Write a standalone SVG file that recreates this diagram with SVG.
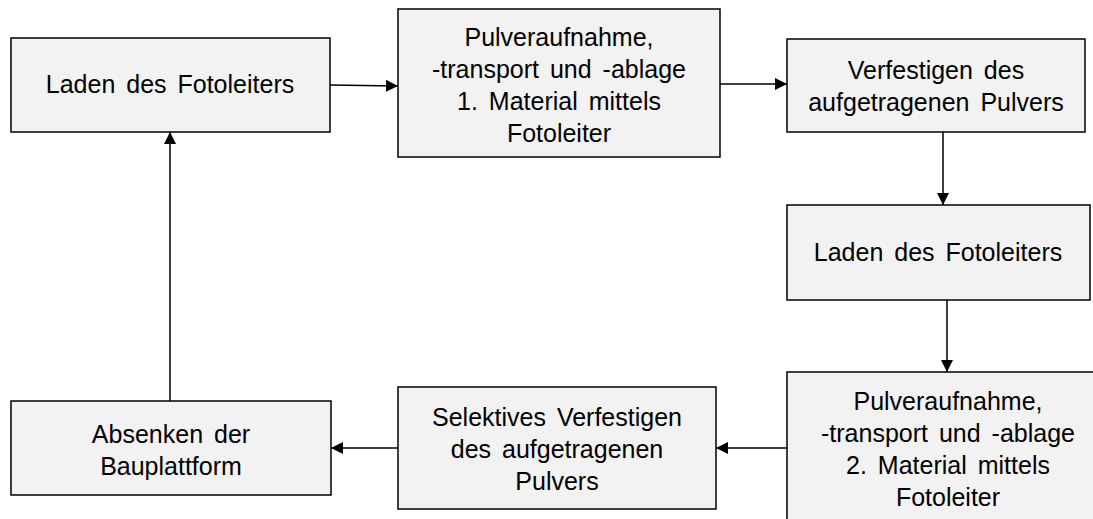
<svg xmlns="http://www.w3.org/2000/svg" width="1093" height="519" viewBox="0 0 1093 519">
<defs>
<marker id="ah" markerWidth="12" markerHeight="12" refX="12" refY="6" orient="auto" markerUnits="userSpaceOnUse">
<path d="M0,0 L12,6 L0,12 Z" fill="#000"/>
</marker>
<style>
.box{fill:#f2f2f2;stroke:#000;stroke-width:1.5}
.t{font-family:"Liberation Sans",Arial,sans-serif;font-size:25px;word-spacing:4px;fill:#000;text-anchor:middle}
.c{stroke:#000;stroke-width:1.5;fill:none;marker-end:url(#ah)}
</style>
</defs>
<rect width="1093" height="519" fill="#fff"/>
<g id="n1"><rect class="box" x="11" y="38" width="319" height="94"/>
<text class="t" x="170" y="93">Laden des Fotoleiters</text></g>
<g id="n2"><rect class="box" x="398" y="9" width="322" height="148"/>
<text class="t" x="559" y="46">Pulveraufnahme,</text>
<text class="t" x="559" y="78">-transport und -ablage</text>
<text class="t" x="559" y="110">1. Material mittels</text>
<text class="t" x="559" y="142">Fotoleiter</text></g>
<g id="n3"><rect class="box" x="787" y="39" width="298" height="93"/>
<text class="t" x="936" y="79">Verfestigen des</text>
<text class="t" x="936" y="111">aufgetragenen Pulvers</text></g>
<g id="n4"><rect class="box" x="787" y="205" width="303" height="95"/>
<text class="t" x="938" y="261">Laden des Fotoleiters</text></g>
<g id="n5"><rect class="box" x="787" y="372" width="330" height="160"/>
<text class="t" x="948" y="410">Pulveraufnahme,</text>
<text class="t" x="948" y="442">-transport und -ablage</text>
<text class="t" x="948" y="474">2. Material mittels</text>
<text class="t" x="948" y="506">Fotoleiter</text></g>
<g id="n6"><rect class="box" x="398" y="387" width="318" height="122"/>
<text class="t" x="557" y="426">Selektives Verfestigen</text>
<text class="t" x="557" y="458">des aufgetragenen</text>
<text class="t" x="557" y="490">Pulvers</text></g>
<g id="n7"><rect class="box" x="11" y="401" width="320" height="94"/>
<text class="t" x="171" y="443">Absenken der</text>
<text class="t" x="171" y="475">Bauplattform</text></g>
<g id="connectors">
<line class="c" x1="330" y1="85" x2="398" y2="86"/>
<line class="c" x1="720" y1="84" x2="787" y2="84"/>
<line class="c" x1="943" y1="132" x2="943" y2="205"/>
<line class="c" x1="947" y1="300" x2="947" y2="372"/>
<line class="c" x1="787" y1="448" x2="716" y2="448"/>
<line class="c" x1="398" y1="448" x2="331" y2="448"/>
<line class="c" x1="170" y1="401" x2="170" y2="132"/>
</g>
</svg>
